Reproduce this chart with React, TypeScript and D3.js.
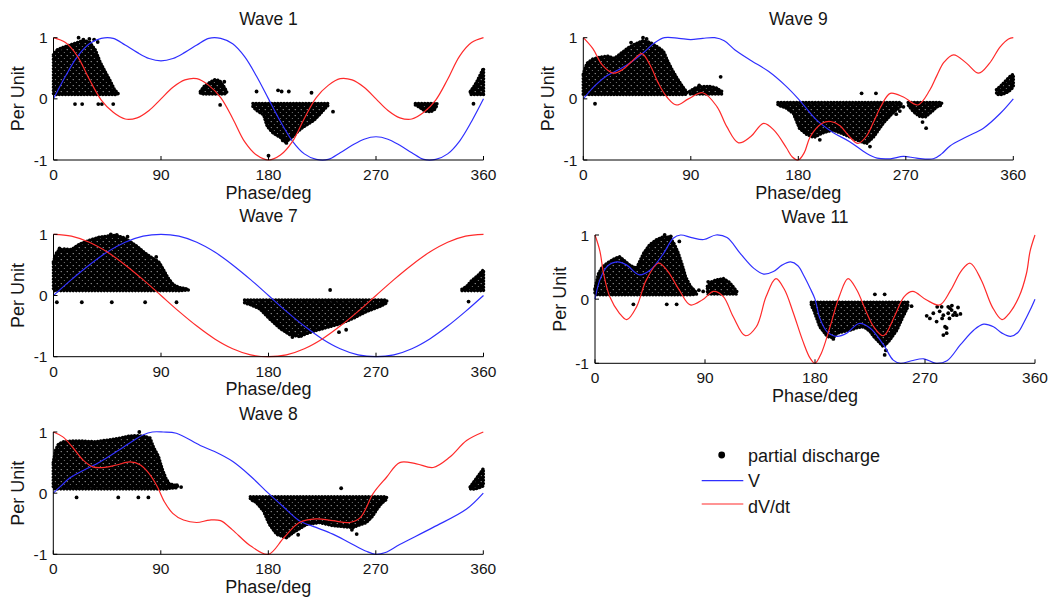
import React from 'react';
import * as d3 from 'd3';

// ---------- shared ticks / labels ----------
const PHASE_TICKS = [0, 90, 180, 270, 360];
const VALUE_TICKS = [-1, 0, 1];
const X_LABEL = 'Phase/deg';
const Y_LABEL = 'Per Unit';
const LEGEND_LABELS = ['partial discharge', 'V', 'dV/dt'];

type Band = [number, number, number][]; // [phase, low, high]
type Dot = [number, number]; // [phase, value]

// ---------- Wave 1 ----------
const w1Phase = [0, 10, 20, 30, 40, 50, 60, 70, 80, 90, 100, 110, 120, 130, 140, 150, 160, 170, 180, 190, 200, 210, 220, 230, 240, 250, 260, 270, 280, 290, 300, 310, 320, 330, 340, 350, 360];
const w1V = [0, 0.37, 0.69, 0.9, 0.99, 0.99, 0.88, 0.76, 0.66, 0.62, 0.66, 0.76, 0.88, 0.99, 0.99, 0.9, 0.69, 0.37, 0, -0.37, -0.69, -0.9, -0.99, -0.99, -0.88, -0.76, -0.66, -0.62, -0.66, -0.76, -0.88, -0.99, -0.99, -0.9, -0.69, -0.37, 0];
const w1Dv = [1, 0.92, 0.7, 0.32, -0.02, -0.22, -0.33, -0.31, -0.19, 0, 0.19, 0.31, 0.33, 0.22, 0.02, -0.32, -0.7, -0.92, -1, -0.92, -0.7, -0.32, 0.02, 0.22, 0.33, 0.31, 0.19, 0, -0.19, -0.31, -0.33, -0.22, -0.02, 0.32, 0.7, 0.92, 1];
const w1PdBandA: Band = [[0, 0.08, 0.72], [3, 0.07, 0.8], [8, 0.07, 0.84], [14, 0.07, 0.88], [20, 0.07, 0.92], [25, 0.07, 0.95], [30, 0.07, 0.93], [35, 0.07, 0.8], [39, 0.07, 0.6], [43, 0.07, 0.45], [47, 0.07, 0.31], [51, 0.07, 0.15], [54, 0.08, 0.09]];
const w1PdBandB: Band = [[123, 0.09, 0.12], [126, 0.08, 0.2], [131, 0.08, 0.27], [135, 0.08, 0.31], [139, 0.08, 0.3], [142, 0.08, 0.22], [145, 0.09, 0.12]];
const w1PdBandC: Band = [[167, -0.13, -0.075], [171, -0.2, -0.075], [176, -0.26, -0.075], [179, -0.45, -0.075], [184, -0.56, -0.075], [190, -0.63, -0.075], [194, -0.7, -0.075], [198, -0.66, -0.075], [204, -0.54, -0.075], [209, -0.46, -0.075], [218, -0.35, -0.075], [223, -0.25, -0.075], [227, -0.16, -0.075], [230, -0.1, -0.075]];
const w1PdBandD: Band = [[303, -0.1, -0.075], [306, -0.13, -0.075], [311, -0.2, -0.075], [316, -0.21, -0.075], [319, -0.17, -0.075], [321, -0.11, -0.075]];
const w1PdBandE: Band = [[349, 0.07, 0.12], [352, 0.07, 0.2], [355, 0.07, 0.3], [358, 0.07, 0.42], [360, 0.07, 0.5]];
const w1PdDots: Dot[] = [[21, 1.0], [25, 0.97], [34, 0.97], [37, 0.93], [30, 0.98], [18, -0.085], [24, -0.085], [37.5, -0.085], [40.5, -0.085], [50, -0.085], [139.5, -0.1], [143, 0.28], [170, 0.12], [188, 0.14], [191, 0.12], [197, 0.12], [216, 0.1], [234, -0.21], [180, -0.93], [195, -0.72], [192, -0.68], [351.6, -0.08]];

// ---------- Wave 9 ----------
const w9VPhase = [0, 10, 20, 30, 40, 50, 60, 68, 80, 90, 100, 110, 118, 127, 141, 155, 169, 180, 195, 209, 223, 237, 246, 257, 268, 279, 293, 300, 307, 321, 335, 349, 360];
const w9V = [0, 0.22, 0.38, 0.48, 0.6, 0.75, 0.92, 1.0, 0.99, 0.97, 0.99, 1.0, 0.95, 0.8, 0.62, 0.45, 0.22, 0, -0.34, -0.55, -0.7, -0.89, -0.97, -0.98, -0.94, -0.97, -0.98, -0.9, -0.77, -0.62, -0.48, -0.24, 0];
const w9DvPhase = [0, 8, 16, 25, 33, 41, 49, 56, 63, 70, 78, 88, 100, 112, 120, 130, 140, 151, 160, 170, 175, 180, 185, 190, 200, 207, 215, 222, 230, 237, 243, 249, 257, 268, 280, 290, 296, 302, 310, 321, 331, 340, 349, 356, 360];
const w9Dv = [1, 0.82, 0.55, 0.42, 0.48, 0.62, 0.74, 0.55, 0.25, 0.03, -0.1, 0.0, 0.1, -0.13, -0.45, -0.72, -0.62, -0.4, -0.52, -0.8, -0.95, -1, -0.88, -0.62, -0.4, -0.37, -0.44, -0.6, -0.73, -0.61, -0.38, -0.13, 0.09, 0.03, -0.1, 0.14, 0.38, 0.6, 0.72, 0.58, 0.42, 0.58, 0.85, 0.98, 1];
const w9PdBandA: Band = [[0, 0.07, 0.4], [3, 0.07, 0.58], [8, 0.07, 0.65], [14, 0.07, 0.68], [20, 0.07, 0.7], [26, 0.07, 0.66], [32, 0.07, 0.75], [38, 0.07, 0.84], [44, 0.07, 0.9], [50, 0.07, 0.95], [56, 0.07, 0.92], [62, 0.07, 0.85], [67, 0.07, 0.78], [71, 0.07, 0.6], [75, 0.07, 0.45], [79, 0.07, 0.32], [83, 0.07, 0.2], [87, 0.08, 0.1]];
const w9PdBandB: Band = [[89, 0.08, 0.12], [94, 0.08, 0.18], [100, 0.08, 0.2], [106, 0.08, 0.2], [111, 0.08, 0.18], [116, 0.08, 0.12]];
const w9PdBandC: Band = [[163, -0.1, -0.06], [170, -0.15, -0.06], [176, -0.24, -0.06], [181, -0.48, -0.06], [187, -0.58, -0.06], [193, -0.63, -0.06], [201, -0.55, -0.06], [209, -0.51, -0.06], [216, -0.56, -0.06], [223, -0.62, -0.06], [230, -0.68, -0.06], [237, -0.73, -0.06], [243, -0.62, -0.06], [251, -0.4, -0.06], [257, -0.27, -0.06], [262, -0.18, -0.06], [266, -0.12, -0.06]];
const w9PdBandD: Band = [[272, -0.1, -0.06], [276, -0.2, -0.06], [281, -0.28, -0.06], [286, -0.3, -0.06], [291, -0.22, -0.06], [296, -0.13, -0.06], [300, -0.1, -0.06]];
const w9PdBandE: Band = [[346, 0.07, 0.15], [350, 0.07, 0.22], [354, 0.1, 0.3], [358, 0.15, 0.38], [360, 0.2, 0.4]];
const w9PdDots: Dot[] = [[9.8, -0.08], [50, 1.0], [53, 0.98], [40, 0.92], [115, 0.36], [97, 0.22], [233, 0.09], [245, 0.09], [287, -0.48], [284, -0.38], [293, -0.07], [298, -0.07], [268, -0.13], [262, -0.25], [265, -0.2], [240, -0.78], [198, -0.67]];

// ---------- Wave 7 ----------
const w7Phase = [0, 15, 30, 45, 60, 75, 90, 105, 120, 135, 150, 165, 180, 195, 210, 225, 240, 255, 270, 285, 300, 315, 330, 345, 360];
const w7V = [0, 0.26, 0.5, 0.71, 0.87, 0.97, 1, 0.97, 0.87, 0.71, 0.5, 0.26, 0, -0.26, -0.5, -0.71, -0.87, -0.97, -1, -0.97, -0.87, -0.71, -0.5, -0.26, 0];
const w7Dv = [1, 0.97, 0.87, 0.71, 0.5, 0.26, 0, -0.26, -0.5, -0.71, -0.87, -0.97, -1, -0.97, -0.87, -0.71, -0.5, -0.26, 0, 0.26, 0.5, 0.71, 0.87, 0.97, 1];
const w7PdBandA: Band = [[0, 0.08, 0.55], [3, 0.08, 0.72], [8, 0.08, 0.76], [15, 0.08, 0.75], [22, 0.08, 0.84], [30, 0.08, 0.9], [38, 0.08, 0.95], [45, 0.08, 0.97], [52, 0.08, 0.98], [58, 0.08, 0.95], [64, 0.08, 0.88], [70, 0.08, 0.8], [76, 0.08, 0.7], [82, 0.08, 0.62], [88, 0.08, 0.55], [92, 0.08, 0.42], [96, 0.08, 0.28], [100, 0.08, 0.18], [105, 0.08, 0.13], [113, 0.09, 0.1]];
const w7PdBandB: Band = [[160, -0.12, -0.075], [165, -0.15, -0.075], [173, -0.22, -0.075], [181, -0.38, -0.075], [190, -0.54, -0.075], [198, -0.64, -0.075], [206, -0.67, -0.075], [212, -0.62, -0.075], [218, -0.58, -0.075], [229, -0.52, -0.075], [240, -0.46, -0.075], [251, -0.37, -0.075], [262, -0.26, -0.075], [273, -0.18, -0.075], [279, -0.12, -0.075]];
const w7PdBandC: Band = [[342, 0.08, 0.1], [346, 0.08, 0.15], [350, 0.08, 0.24], [355, 0.08, 0.32], [360, 0.08, 0.42]];
const w7PdDots: Dot[] = [[2.8, -0.11], [23.7, -0.11], [48.8, -0.11], [76.7, -0.11], [103, -0.11], [5, 0.77], [48, 1.0], [53, 0.99], [62, 0.96], [86, 0.63], [231.6, 0.09], [200, -0.68], [207, -0.66], [239, -0.6], [245, -0.56], [347.5, -0.1]];

// ---------- Wave 11 ----------
const w11VPhase = [0, 4, 10, 18, 26, 36, 45, 56, 64, 70, 79, 89, 99, 108, 119, 130, 138, 146, 153, 160, 166, 171, 176, 180, 184, 190, 198, 206, 216, 225, 236, 244, 250, 259, 269, 279, 288, 299, 310, 318, 326, 333, 340, 346, 351, 356, 360];
const w11V = [0, 0.3, 0.51, 0.58, 0.53, 0.38, 0.45, 0.71, 0.95, 1.0, 0.96, 0.93, 1.0, 0.96, 0.71, 0.48, 0.39, 0.43, 0.53, 0.58, 0.52, 0.36, 0.17, 0, -0.3, -0.51, -0.58, -0.53, -0.38, -0.45, -0.71, -0.95, -1.0, -0.96, -0.93, -1.0, -0.96, -0.71, -0.48, -0.39, -0.43, -0.53, -0.58, -0.52, -0.36, -0.17, 0];
const w11DvPhase = [0, 4, 7, 12, 20, 26, 34, 42, 52, 59, 69, 78, 88, 97, 105, 113, 123, 132, 140, 148, 155, 162, 170, 176, 180, 185, 192, 200, 207, 214, 222, 228, 236, 245, 253, 260, 271, 282, 291, 300, 307, 316, 325, 333, 339, 347, 353, 356, 360];
const w11Dv = [1, 0.75, 0.4, 0.04, -0.22, -0.32, -0.12, 0.3, 0.56, 0.45, 0.14, -0.09, -0.01, 0.12, 0.04, -0.27, -0.57, -0.43, 0.04, 0.32, 0.15, -0.2, -0.65, -0.92, -1, -0.85, -0.45, 0.05, 0.32, 0.15, -0.2, -0.43, -0.57, -0.27, 0.04, 0.12, -0.01, -0.09, 0.14, 0.45, 0.56, 0.3, -0.12, -0.32, -0.22, 0.04, 0.4, 0.75, 1];
const w11PdBandA: Band = [[0, 0.08, 0.16], [3, 0.07, 0.4], [6, 0.07, 0.5], [10, 0.07, 0.56], [15, 0.07, 0.62], [20, 0.07, 0.66], [24, 0.07, 0.6], [29, 0.07, 0.52], [34, 0.07, 0.48], [37, 0.07, 0.6], [40, 0.07, 0.72], [45, 0.07, 0.85], [50, 0.07, 0.92], [56, 0.07, 0.97], [61, 0.07, 0.97], [65, 0.07, 0.85], [68, 0.07, 0.72], [71, 0.07, 0.55], [74, 0.07, 0.35], [78, 0.07, 0.2], [83, 0.08, 0.1]];
const w11PdBandB: Band = [[92, 0.08, 0.2], [96, 0.08, 0.28], [100, 0.08, 0.3], [105, 0.08, 0.32], [110, 0.08, 0.26], [116, 0.08, 0.12]];
const w11PdBandC: Band = [[177, -0.1, -0.05], [179, -0.17, -0.05], [184, -0.43, -0.05], [190, -0.58, -0.05], [195, -0.6, -0.05], [198, -0.53, -0.05], [204, -0.5, -0.05], [209, -0.48, -0.05], [215, -0.44, -0.05], [220, -0.43, -0.05], [225, -0.5, -0.05], [228, -0.58, -0.05], [233, -0.68, -0.05], [236, -0.74, -0.05], [241, -0.64, -0.05], [247, -0.48, -0.05], [252, -0.27, -0.05], [256, -0.12, -0.05]];
const w11PdDots: Dot[] = [[31.4, -0.08], [58.7, -0.08], [66.8, -0.08], [88.5, 0.12], [85, 0.14], [57, 1.0], [62, 0.98], [69, 0.9], [92.6, 0.27], [80, 0.15], [237, -0.87], [238, -0.8], [229, 0.075], [237, 0.075], [195, -0.62],
  [259, -0.11], [271.4, -0.26], [274, -0.3], [276.8, -0.22], [279.5, -0.35], [282, -0.19], [283.6, -0.12], [285, -0.25], [286.4, -0.43], [287.7, -0.45], [289, -0.22], [290.4, -0.14], [291.8, -0.17], [293, -0.25], [294.5, -0.21], [295.9, -0.25], [287.7, -0.53], [285, -0.56], [289, -0.12], [292, -0.1], [297, -0.13], [299, -0.23], [280, -0.12], [284, -0.3], [290, -0.3]];

// ---------- Wave 8 ----------
const w8VPhase = [0, 6, 14, 25, 39, 53, 64, 75, 83, 92, 103, 123, 135, 150, 165, 180, 193, 206, 220, 234, 248, 262, 270, 278, 290, 318, 346, 360];
const w8V = [0, 0.11, 0.25, 0.37, 0.51, 0.68, 0.82, 0.95, 1.0, 1.0, 0.98, 0.78, 0.68, 0.52, 0.28, 0, -0.23, -0.45, -0.56, -0.67, -0.81, -0.95, -1.0, -0.97, -0.84, -0.56, -0.26, 0];
const w8DvPhase = [0, 8, 17, 25, 33, 43, 53, 64, 73, 81, 87, 93, 100, 109, 120, 131, 140, 150, 165, 180, 193, 206, 220, 234, 248, 257, 268, 279, 290, 304, 318, 332, 346, 360];
const w8Dv = [1, 0.92, 0.73, 0.54, 0.43, 0.42, 0.46, 0.51, 0.46, 0.3, 0.11, -0.14, -0.33, -0.44, -0.48, -0.44, -0.45, -0.6, -0.86, -1, -0.73, -0.48, -0.42, -0.45, -0.48, -0.4, 0, 0.26, 0.5, 0.48, 0.42, 0.59, 0.86, 1];
const w8PdBandA: Band = [[0, 0.08, 0.5], [2, 0.07, 0.7], [4, 0.07, 0.79], [8, 0.07, 0.84], [16, 0.07, 0.85], [25, 0.07, 0.85], [35, 0.07, 0.84], [47, 0.07, 0.87], [56, 0.07, 0.9], [63, 0.07, 0.93], [70, 0.07, 0.94], [76, 0.07, 0.93], [81, 0.07, 0.9], [84, 0.07, 0.74], [88, 0.07, 0.6], [91, 0.07, 0.4], [94, 0.07, 0.25], [97, 0.08, 0.15], [104, 0.09, 0.12]];
const w8PdBandB: Band = [[165, -0.1, -0.06], [170, -0.15, -0.06], [176, -0.29, -0.06], [181, -0.51, -0.06], [187, -0.67, -0.06], [195, -0.73, -0.06], [201, -0.64, -0.06], [212, -0.51, -0.06], [223, -0.48, -0.06], [234, -0.53, -0.06], [245, -0.55, -0.06], [251, -0.56, -0.06], [256, -0.52, -0.06], [262, -0.48, -0.06], [267, -0.38, -0.06], [271, -0.26, -0.06], [275, -0.16, -0.06], [279, -0.1, -0.06]];
const w8PdBandC: Band = [[349, 0.07, 0.1], [352, 0.07, 0.18], [355, 0.08, 0.26], [358, 0.1, 0.34], [360, 0.12, 0.4]];
const w8PdDots: Dot[] = [[19.5, -0.07], [54.4, -0.07], [71.2, -0.07], [79.6, -0.07], [72, 1.0], [103.5, 0.13], [107, 0.1], [241, 0.08], [254, -0.67], [250, -0.6], [205, -0.68]];

// ---------- panels ----------
interface PanelDef {
  title: string;
  left: number; right: number; top: number; bottom: number;
  vPhase: number[]; v: number[];
  dvPhase: number[]; dv: number[];
  bands: Band[]; dots: Dot[];
}

const PANELS: PanelDef[] = [
  { title: 'Wave 1', left: 53.5, right: 483.5, top: 37.7, bottom: 160, vPhase: w1Phase, v: w1V, dvPhase: w1Phase, dv: w1Dv, bands: [w1PdBandA, w1PdBandB, w1PdBandC, w1PdBandD, w1PdBandE], dots: w1PdDots },
  { title: 'Wave 9', left: 583.3, right: 1013.3, top: 37.7, bottom: 160, vPhase: w9VPhase, v: w9V, dvPhase: w9DvPhase, dv: w9Dv, bands: [w9PdBandA, w9PdBandB, w9PdBandC, w9PdBandD, w9PdBandE], dots: w9PdDots },
  { title: 'Wave 7', left: 53.5, right: 483.5, top: 234.3, bottom: 356.7, vPhase: w7Phase, v: w7V, dvPhase: w7Phase, dv: w7Dv, bands: [w7PdBandA, w7PdBandB, w7PdBandC], dots: w7PdDots },
  { title: 'Wave 11', left: 595, right: 1035, top: 235, bottom: 363.3, vPhase: w11VPhase, v: w11V, dvPhase: w11DvPhase, dv: w11Dv, bands: [w11PdBandA, w11PdBandB, w11PdBandC], dots: w11PdDots },
  { title: 'Wave 8', left: 53.3, right: 483.3, top: 432, bottom: 554.3, vPhase: w8VPhase, v: w8V, dvPhase: w8DvPhase, dv: w8Dv, bands: [w8PdBandA, w8PdBandB, w8PdBandC], dots: w8PdDots },
];

const FONT = "'Liberation Sans', Arial, Helvetica, sans-serif";
const TEXT_COLOR = '#161616';
const BLUE = '#2f2fff';
const RED = '#ff2a2a';

function Panel({ p }: { p: PanelDef }) {
  const x = d3.scaleLinear().domain([0, 360]).range([p.left, p.right]);
  const y = d3.scaleLinear().domain([-1, 1]).range([p.bottom, p.top]);
  const line = d3.line<[number, number]>().x(d => x(d[0])).y(d => y(d[1])).curve(d3.curveCatmullRom.alpha(0.5));
  const area = d3.area<[number, number, number]>().x(d => x(d[0])).y0(d => y(d[1])).y1(d => y(d[2])).curve(d3.curveLinear);
  const vPts = p.vPhase.map((ph, i) => [ph, p.v[i]] as [number, number]);
  const dvPts = p.dvPhase.map((ph, i) => [ph, p.dv[i]] as [number, number]);
  const midX = (p.left + p.right) / 2;
  const midY = (p.top + p.bottom) / 2;
  return (
    <g>
      <text x={midX} y={p.top - 12.5} textAnchor="middle" fontSize={17.5} fill={TEXT_COLOR}>{p.title}</text>
      {p.bands.map((b, i) => (
        <path key={'b' + i} d={area(b) || ''} fill="url(#pdFill)" stroke="#000" strokeWidth={3.6} strokeDasharray="0.01 3.1" strokeLinecap="round" strokeLinejoin="round" />
      ))}
      {p.dots.map((d, i) => (
        <circle key={'d' + i} cx={x(d[0])} cy={y(d[1])} r={1.9} fill="#000" />
      ))}
      <path d={line(vPts) || ''} fill="none" stroke={BLUE} strokeWidth={1.2} />
      <path d={line(dvPts) || ''} fill="none" stroke={RED} strokeWidth={1.2} />
      {/* axes */}
      <line x1={p.left} x2={p.right} y1={p.bottom} y2={p.bottom} stroke="#000" strokeWidth={1} />
      <line x1={p.left} x2={p.left} y1={p.top} y2={p.bottom} stroke="#000" strokeWidth={1} />
      {PHASE_TICKS.map(t => (
        <g key={'xt' + t}>
          <line x1={x(t)} x2={x(t)} y1={p.bottom} y2={p.bottom - 4} stroke="#000" strokeWidth={1} />
          <text x={x(t)} y={p.bottom + 20} textAnchor="middle" fontSize={15.5} fill={TEXT_COLOR}>{t}</text>
        </g>
      ))}
      {VALUE_TICKS.map(t => (
        <g key={'yt' + t}>
          <line x1={p.left} x2={p.left + 4} y1={y(t)} y2={y(t)} stroke="#000" strokeWidth={1} />
          <text x={p.left - 6} y={y(t) + 5.5} textAnchor="end" fontSize={15.5} fill={TEXT_COLOR}>{t}</text>
        </g>
      ))}
      <text x={midX} y={p.bottom + 38.5} textAnchor="middle" fontSize={18} fill={TEXT_COLOR}>{X_LABEL}</text>
      <text transform={`translate(${p.left - 29.5},${midY}) rotate(-90)`} textAnchor="middle" fontSize={18} fill={TEXT_COLOR}>{Y_LABEL}</text>
    </g>
  );
}

export default function App() {
  return (
    <svg width={1052} height={598} style={{ position: 'absolute', left: 0, top: 0, background: '#fff' }} fontFamily={FONT}>
      <defs>
        <pattern id="pdFill" width={6} height={6} patternUnits="userSpaceOnUse">
          <rect x={0} y={0} width={6} height={6} fill="#000" />
          <circle cx={1.2} cy={1.6} r={0.55} fill="#fff" fillOpacity={0.8} />
          <circle cx={4.3} cy={4.5} r={0.5} fill="#fff" fillOpacity={0.6} />
        </pattern>
      </defs>
      <rect x={0} y={0} width={1052} height={598} fill="#fff" />
      {PANELS.map(p => <Panel key={p.title} p={p} />)}
      {/* legend */}
      <g>
        <circle cx={721.7} cy={455} r={3.4} fill="#000" />
        <text x={748} y={461.7} fontSize={18} fill={TEXT_COLOR}>{LEGEND_LABELS[0]}</text>
        <line x1={701.7} x2={743.3} y1={480.7} y2={480.7} stroke={BLUE} strokeWidth={1.2} />
        <text x={748} y={487.3} fontSize={18} fill={TEXT_COLOR}>{LEGEND_LABELS[1]}</text>
        <line x1={701.7} x2={743.3} y1={504} y2={504} stroke={RED} strokeWidth={1.2} />
        <text x={748} y={513.3} fontSize={18} fill={TEXT_COLOR}>{LEGEND_LABELS[2]}</text>
      </g>
    </svg>
  );
}
